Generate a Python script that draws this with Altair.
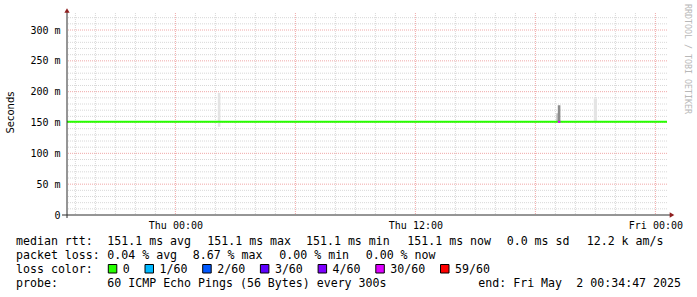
import altair as alt
import pandas as pd

# ---------------- data ----------------
# time in hours relative to Thu 00:00
t_start, t_end = -5.42, 24.58
median_t = [-5.42, 24.58]
median_ms = [151.1, 151.1]
loss_t = [19.12, 19.25]
loss_ms = [151.1, 151.1]
smoke_t0 = [2.12, 19.05, 19.12, 20.92]
smoke_t1 = [2.25, 19.12, 19.25, 21.08]
smoke_lo = [143, 152, 152, 150]
smoke_hi = [198, 165, 178, 189]
smoke_col = ["#e4e4e4", "#b4b4b4", "#8c8c8c", "#e4e4e4"]

x_tick_hours = [0, 12, 24]
x_tick_labels = ["Thu 00:00", "Thu 12:00", "Fri 00:00"]
y_ticks = [0, 50, 100, 150, 200, 250, 300]

row1 = ["median rtt:", "151.1 ms avg", "151.1 ms max", "151.1 ms min",
        "151.1 ms now", "0.0 ms sd", "12.2 k am/s"]
row2 = ["packet loss:", "0.04 % avg", "8.67 % max", "0.00 % min", "0.00 % now"]
row3_head = "loss color:"
loss_labels = ["0", "1/60", "2/60", "3/60", "4/60", "30/60", "59/60"]
loss_colors = ["#26ff00", "#00b8ff", "#0059ff", "#5e00ff", "#7e00ff", "#dd00ff", "#ff0000"]
row4 = ["probe:", "60 ICMP Echo Pings (56 Bytes) every 300s", "end: Fri May", "2 00:34:47 2025"]

# ---------------- layout ----------------
W, H = 600, 202
L, T = 67, 13
YMAX = 327.6
MONO = "DejaVu Sans Mono"
ch = 7.0
x1 = [16, 107.3, 207.3, 306, 407.3, 506.7, 586.7]
x2 = [16, 107.3, 192.7, 279.3, 365.7]
x4 = [16, 107.3, 478.3, 478.3 + 14 * ch]
rows_y = [245, 259, 273, 287]

xs = alt.Scale(domain=[t_start, t_end], nice=False, zero=False)
ys = alt.Scale(domain=[0, YMAX], nice=False, zero=False)

label_expr = " : ".join(
    f"datum.value == {h} ? '{lab}'" for h, lab in zip(x_tick_hours, x_tick_labels)
) + " : ''"

AX = alt.Axis(
    values=x_tick_hours, labelExpr=label_expr, title=None, grid=False,
    ticks=False, domain=False, labelFont=MONO, labelFontSize=10,
    labelColor="#000000", labelPadding=5, labelFlush=False, labelOverlap=False)
AY = alt.Axis(
    values=y_ticks, labelExpr="datum.value == 0 ? '0' : datum.value + ' m'",
    title=None, grid=False, ticks=False, domain=False, labelFont=MONO,
    labelFontSize=10, labelColor="#000000", labelPadding=7)

# grid
minor_x = [h for h in range(-5, 25) if h % 6 != 0]
major_x = [h for h in range(-5, 25) if h % 6 == 0]
minor_y = [v for v in range(10, 330, 10) if v % 50 != 0]
major_y = [v for v in range(50, 330, 50)]

def vgrid(vals, color):
    return alt.Chart(pd.DataFrame({"t": vals})).mark_rule(
        color=color, strokeWidth=1, strokeDash=[1, 1]
    ).encode(x=alt.X("t:Q", scale=xs, axis=AX))

def hgrid(vals, color):
    return alt.Chart(pd.DataFrame({"v": vals})).mark_rule(
        color=color, strokeWidth=1, strokeDash=[1, 1]
    ).encode(y=alt.Y("v:Q", scale=ys, axis=AY))

grid = [vgrid(minor_x, "#d8d8d8"), hgrid(minor_y, "#d8d8d8"),
        vgrid(major_x, "#f0a8a8"), hgrid(major_y, "#f0a8a8")]

smoke = alt.Chart(pd.DataFrame({
    "t0": smoke_t0, "t1": smoke_t1, "lo": smoke_lo, "hi": smoke_hi, "c": smoke_col
})).mark_rect().encode(
    x=alt.X("t0:Q", scale=xs, axis=AX), x2="t1:Q",
    y=alt.Y("lo:Q", scale=ys, axis=AY), y2="hi:Q",
    color=alt.Color("c:N", scale=None),
)

line = alt.Chart(pd.DataFrame({"t": median_t, "v": median_ms})).mark_line(
    color="#26ff00", strokeWidth=2
).encode(
    x=alt.X("t:Q", scale=xs, axis=AX),
    y=alt.Y("v:Q", scale=ys, axis=AY),
)

loss_seg = alt.Chart(pd.DataFrame({"t": loss_t, "v": loss_ms})).mark_line(
    color="#dd00ff", strokeWidth=2
).encode(x=alt.X("t:Q", scale=xs, axis=AX), y=alt.Y("v:Q", scale=ys, axis=AY))

axis_col = "#2c2c2c"
yaxis_line = alt.Chart(pd.DataFrame({"a": [0]})).mark_rule(color=axis_col, strokeWidth=1).encode(
    x=alt.value(0), y=alt.value(-2), y2=alt.value(H + 3))
xaxis_line = alt.Chart(pd.DataFrame({"a": [0]})).mark_rule(color=axis_col, strokeWidth=1).encode(
    x=alt.value(-5), x2=alt.value(W + 3), y=alt.value(H))
arrow_up = alt.Chart(pd.DataFrame({"a": [0]})).mark_point(
    shape="triangle-up", filled=True, color="#8f1f1f", size=28, opacity=1
).encode(x=alt.value(0), y=alt.value(-2.5))
arrow_right = alt.Chart(pd.DataFrame({"a": [0]})).mark_point(
    shape="triangle-right", filled=True, color="#8f1f1f", size=28, opacity=1
).encode(x=alt.value(W + 5), y=alt.value(H))

# legend texts
recs = []
for txt, xx in zip(row1, x1):
    recs.append({"s": txt, "px": xx - L, "py": rows_y[0] - T})
for txt, xx in zip(row2, x2):
    recs.append({"s": txt, "px": xx - L, "py": rows_y[1] - T})
recs.append({"s": row3_head, "px": 16 - L, "py": rows_y[2] - T})
sq = []
sx = 108.3
for lab, col in zip(loss_labels, loss_colors):
    sq.append({"x0": sx - L, "x1": sx + 8.5 - L, "y0": 264.5 - T, "y1": 273 - T, "c": col})
    lx = sx + 14.5
    recs.append({"s": lab, "px": lx - L, "py": rows_y[2] - T})
    sx = lx + ch * len(lab) + 15.2
for txt, xx in zip(row4, x4):
    recs.append({"s": txt, "px": xx - L, "py": rows_y[3] - T})

legend_text = alt.Chart(pd.DataFrame(recs)).mark_text(
    font=MONO, fontSize=11.6, align="left", baseline="alphabetic", color="#000000"
).encode(x=alt.X("px:Q", scale=None, axis=None), y=alt.Y("py:Q", scale=None, axis=None), text="s:N")

squares = alt.Chart(pd.DataFrame(sq)).mark_rect(stroke="#000000", strokeWidth=1).encode(
    x=alt.X("x0:Q", scale=None, axis=None), x2="x1:Q",
    y=alt.Y("y0:Q", scale=None, axis=None), y2="y1:Q",
    color=alt.Color("c:N", scale=None),
)

ytitle = alt.Chart(pd.DataFrame({"s": ["Seconds"]})).mark_text(
    font="DejaVu Sans", fontSize=10, angle=270, align="center", baseline="middle", color="#000000"
).encode(x=alt.value(10.7 - L), y=alt.value(112.5 - T), text="s:N")

rrd = alt.Chart(pd.DataFrame({"s": ["RRDTOOL / TOBI OETIKER"]})).mark_text(
    font=MONO, fontSize=8.3, angle=90, align="center", baseline="middle", color="#b8b8b8"
).encode(x=alt.value(686.5 - L), y=alt.value(59 - T), text="s:N")

chart = alt.layer(
    *grid, smoke, line, loss_seg, yaxis_line, xaxis_line, arrow_up, arrow_right,
    squares, legend_text, ytitle, rrd
).properties(
    width=W, height=H,
    autosize=alt.AutoSizeParams(type="none"),
    padding={"left": L, "top": T, "right": 697 - L - W, "bottom": 297 - T - H},
    background="#ffffff",
).configure_view(stroke=None)

chart.save("out.html", embed_options={"renderer": "svg", "actions": False})
